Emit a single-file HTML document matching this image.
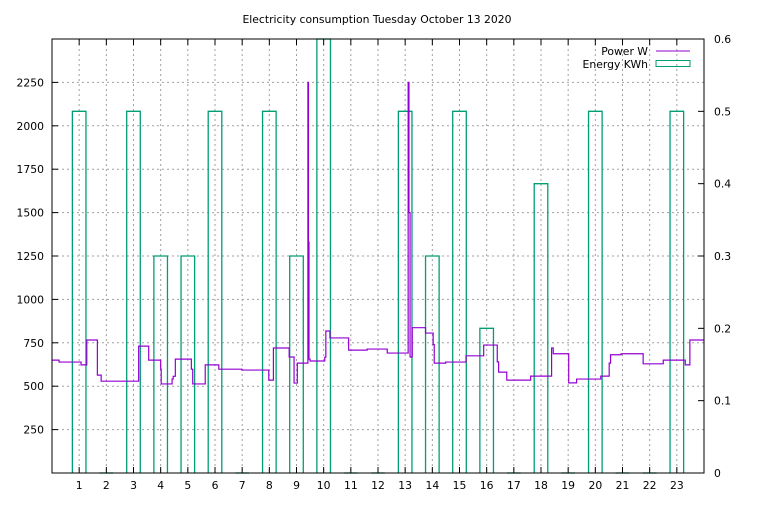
<!DOCTYPE html>
<html><head><meta charset="utf-8"><style>
body{margin:0;background:#fff}
svg text{font-family:"DejaVu Sans","Liberation Sans",sans-serif;font-size:10.8px;fill:#000}
</style></head><body>
<svg id="chart" width="768" height="500" xmlns="http://www.w3.org/2000/svg">
<text x="377" y="23" text-anchor="middle">Electricity consumption Tuesday October 13 2020</text>
<g id="grid"></g>
<g id="energy"></g>
<g id="power"></g>
<g id="axes"></g>
<g>
<text x="648" y="55" text-anchor="end">Power W</text>
<line x1="656" y1="51" x2="690" y2="51" stroke="#9400d3" stroke-width="1"/>
<text x="648" y="68" text-anchor="end">Energy KWh</text>
<rect x="656" y="60.5" width="34" height="6" fill="none" stroke="#009e73" stroke-width="1"/>
</g>
</svg>
<script>
const hourTicks=[1,2,3,4,5,6,7,8,9,10,11,12,13,14,15,16,17,18,19,20,21,22,23];
const powerTicks=[250,500,750,1000,1250,1500,1750,2000,2250];
const energyTicks=[0,0.1,0.2,0.3,0.4,0.5,0.6];
const energyHours=[1,2,3,4,5,6,7,8,9,10,11,12,13,14,15,16,17,18,19,20,21,22,23];
const energyValues=[0.5,0,0.5,0.3,0.3,0.5,0,0.5,0.3,0.6,0,0,0.5,0.3,0.5,0.2,0,0.4,0,0.5,0,0,0.5];
const powerTimes=[0,0.26,1.07,1.28,1.67,1.81,3.19,3.56,4.0,4.02,4.42,4.46,4.54,5.13,5.18,5.64,6.14,6.99,7.98,8.15,8.73,8.91,9.03,9.42,9.44,9.46,9.5,10.04,10.08,10.23,10.92,11.6,12.34,13.11,13.14,13.18,13.26,13.75,14.03,14.07,14.49,15.24,15.89,16.39,16.44,16.74,17.62,18.39,18.45,19.02,19.31,20.2,20.51,20.56,20.95,21.76,22.5,23.31,23.48,24];
const powerValues=[650,639,623,766,564,529,731,650,598,513,541,557,656,598,513,623,598,593,535,720,668,518,633,2250,1330,656,645,667,818,778,708,714,691,2250,1500,668,837,806,740,633,639,675,737,640,581,535,558,720,687,519,541,558,633,681,687,629,650,623,766,766];
const L=52,R=704,T=39,B=473;
const xS=h=>L+(h/24)*(R-L);
const yP=v=>B-(v/2500)*(B-T);
const yE=v=>B-(v/0.6)*(B-T);
const NS='http://www.w3.org/2000/svg';
function mk(tag,attrs,parent){const e=document.createElementNS(NS,tag);for(const k in attrs)e.setAttribute(k,attrs[k]);parent.appendChild(e);return e;}
const grid=document.getElementById('grid'),axes=document.getElementById('axes'),en=document.getElementById('energy'),pw=document.getElementById('power');
hourTicks.forEach(h=>{const x=xS(h);
 const g=mk('line',{x1:x,y1:T,x2:x,y2:B,stroke:'#a0a0a0','stroke-dasharray':'2,3','stroke-width':1},grid);
 
 const t1=mk('line',{x1:x,y1:B,x2:x,y2:B-6,stroke:'#000'},axes);
 const t2=mk('line',{x1:x,y1:T,x2:x,y2:T+6,stroke:'#000'},axes);
 const tx=mk('text',{x:x,y:B+16,'text-anchor':'middle'},axes);tx.textContent=h;
});
powerTicks.forEach(v=>{const y=yP(v);
 const g=mk('line',{x1:L,y1:y,x2:R,y2:y,stroke:'#a0a0a0','stroke-dasharray':'2,3','stroke-width':1},grid);
 
 const t=mk('line',{x1:L,y1:y,x2:L+6,y2:y,stroke:'#000'},axes);
 const tx=mk('text',{x:L-8,y:y+4,'text-anchor':'end'},axes);tx.textContent=v;
});
energyTicks.forEach(v=>{const y=yE(v);
 const t=mk('line',{x1:R,y1:y,x2:R-6,y2:y,stroke:'#000'},axes);
 const tx=mk('text',{x:R+10,y:y+4,'text-anchor':'start'},axes);tx.textContent=v;
});
const fr=mk('rect',{x:L,y:T,width:R-L,height:B-T,fill:'none',stroke:'#000','stroke-width':1},axes);

energyHours.forEach((h,i)=>{const v=energyValues[i];const x0=xS(h-0.25),x1=xS(h+0.25),y=Math.max(T,yE(v));
 const p=mk('path',{d:`M${x0},${B}L${x0},${y}L${x1},${y}L${x1},${B}`,fill:'none',stroke:'#009e73','stroke-width':1.3},en);
 
});
let d='';
for(let i=0;i<powerTimes.length-1;i++){const x0=xS(powerTimes[i]),x1=xS(powerTimes[i+1]),y=Math.max(T,yP(powerValues[i]));
 d+=(i===0?'M':'L')+x0+','+y+'L'+x1+','+y;}
const pl=mk('path',{d:d,fill:'none',stroke:'#9400d3','stroke-width':1.2},pw);

</script>
</body></html>
